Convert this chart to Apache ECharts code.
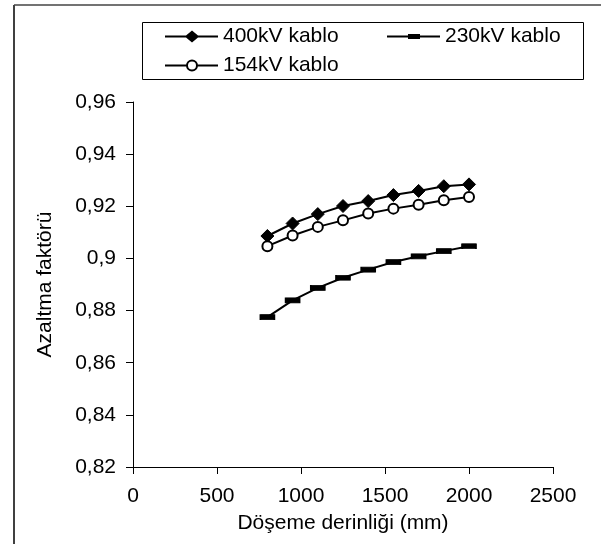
<!DOCTYPE html>
<html><head><meta charset="utf-8">
<script src="https://cdn.jsdelivr.net/npm/echarts@6/dist/echarts.min.js"></script>
<style>html,body{margin:0;padding:0;background:#fff}#c{width:601px;height:544px}</style>
</head><body><div id="c"></div>
<script>
var depth = [800, 950, 1100, 1250, 1400, 1550, 1700, 1850, 2000];
var kv400 = [0.9086, 0.9134, 0.9170, 0.9201, 0.9220, 0.9243, 0.9259, 0.9277, 0.9284];
var kv230 = [0.8775, 0.8839, 0.8887, 0.8926, 0.8957, 0.8986, 0.9008, 0.9028, 0.9047];
var kv154 = [0.9047, 0.9088, 0.9121, 0.9146, 0.9172, 0.9191, 0.9206, 0.9223, 0.9236];
var seriesNames = ['400kV kablo', '230kV kablo', '154kV kablo'];
var xTicks = [0, 500, 1000, 1500, 2000, 2500];
var yTicks = [0.82, 0.84, 0.86, 0.88, 0.90, 0.92, 0.94, 0.96];

function pairs(ys){ return depth.map(function(x,i){ return [x, ys[i]]; }); }
var font = 'Liberation Sans, Arial, sans-serif';
var FS = 21;
var iconDiamond = 'path://M0,5 L21,5 L27,0 L33,5 L53,5 L53,7 L33,7 L27,12 L21,7 L0,7 Z';
var iconRect = 'path://M0,1.5 L21,1.5 L21,0 L33,0 L33,1.5 L53,1.5 L53,3.5 L33,3.5 L33,5 L21,5 L21,3.5 L0,3.5 Z';
var iconCircle = 'path://M0,5 L21.5,5 L21.5,7 L0,7 Z M32.5,5 L53,5 L53,7 L32.5,7 Z M21,6 A6,6 0 1 1 33,6 A6,6 0 1 1 21,6 Z M23,6 A4,4 0 1 0 31,6 A4,4 0 1 0 23,6 Z';
function legendAt(name, icon, left, top, h){
  return {
    left: left, top: top, padding: 0, orient: 'horizontal',
    itemWidth: 53, itemHeight: h, itemGap: 0,
    textStyle: {fontSize: FS, lineHeight: FS, color: '#000', fontFamily: font},
    selectedMode: false,
    data: [{name: name, icon: icon, itemStyle: {color: '#000', borderWidth: 0}}]
  };
}
var chart = echarts.init(document.getElementById('c'));
chart.setOption({
  animation: false,
  backgroundColor: '#fff',
  textStyle: {fontFamily: font},
  grid: {left: 133, top: 102, right: 48, bottom: 77, containLabel: false},
  legend: [
    legendAt(seriesNames[0], iconDiamond, 165, 26, 12),
    legendAt(seriesNames[1], iconRect, 387, 26, 5),
    legendAt(seriesNames[2], iconCircle, 165, 55, 12)
  ],
  xAxis: {
    type: 'value', min: xTicks[0], max: xTicks[xTicks.length-1], interval: 500,
    name: 'Döşeme derinliği (mm)', nameLocation: 'middle', nameGap: 46,
    nameTextStyle: {fontSize: FS, color: '#000', fontFamily: font},
    axisLine: {lineStyle: {color: '#000', width: 1}},
    axisTick: {show: true, length: 7, lineStyle: {color: '#000'}},
    axisLabel: {fontSize: FS, color: '#000', margin: 19, fontFamily: font,
      formatter: function(v){ return String(v); }},
    splitLine: {show: false}
  },
  yAxis: {
    type: 'value', min: yTicks[0], max: yTicks[yTicks.length-1], interval: 0.02,
    name: 'Azaltma faktörü', nameLocation: 'middle', nameGap: 77,
    nameTextStyle: {fontSize: FS, color: '#000', fontFamily: font},
    axisLine: {show: true, lineStyle: {color: '#000', width: 1}},
    axisTick: {show: true, length: 7, lineStyle: {color: '#000'}},
    axisLabel: {fontSize: FS, color: '#000', margin: 17, fontFamily: font,
      formatter: function(v){ return String(Math.round(v*100)/100).replace('.', ','); }},
    splitLine: {show: false}
  },
  series: [
    {name: seriesNames[0], type: 'line', data: pairs(kv400), symbol: 'diamond', symbolSize: 13,
     lineStyle: {color: '#000', width: 2}, itemStyle: {color: '#000', borderColor: '#000'}},
    {name: seriesNames[1], type: 'line', data: pairs(kv230), symbol: 'rect', symbolSize: [14, 5],
     lineStyle: {color: '#000', width: 2}, itemStyle: {color: '#000', borderColor: '#000'}},
    {name: seriesNames[2], type: 'line', data: pairs(kv154), symbol: 'circle', symbolSize: 10,
     lineStyle: {color: '#000', width: 2}, itemStyle: {color: '#fff', borderColor: '#000', borderWidth: 2}}
  ],
  graphic: [
    {type: 'rect', shape: {x: 142.5, y: 22.5, width: 441, height: 57},
     style: {fill: 'none', stroke: '#000', lineWidth: 1}, z: -1},
    {type: 'line', shape: {x1: 14, y1: 5, x2: 14, y2: 544}, style: {stroke: '#000', lineWidth: 1.5}},
    {type: 'line', shape: {x1: 14, y1: 5, x2: 601, y2: 5}, style: {stroke: '#444', lineWidth: 1.5}}
  ]
});
</script></body></html>
